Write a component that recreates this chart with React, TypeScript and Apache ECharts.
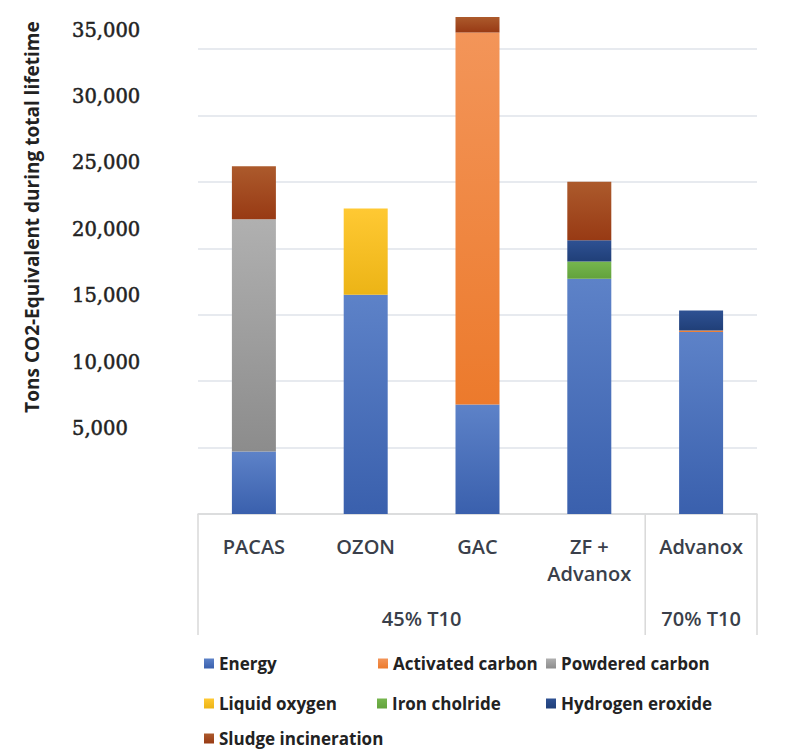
import React, { useEffect, useRef } from "react";
import * as echarts from "echarts";

const categories = ["PACAS", "OZON", "GAC", "ZF +\nAdvanox", "Advanox"];
const groupLabels = ["45% T10", "70% T10"];
const yTicks = [0, 5000, 10000, 15000, 20000, 25000, 30000, 35000];

const seriesNames = [
  "Energy",
  "Activated carbon",
  "Powdered carbon",
  "Liquid oxygen",
  "Iron cholride",
  "Hydrogen eroxide",
  "Sludge incineration",
];
const energy = [4700, 16500, 8250, 17700, 13700];
const activatedCarbon = [0, 0, 28000, 0, 120];
const powderedCarbon = [17480, 0, 0, 0, 0];
const liquidOxygen = [0, 6500, 0, 0, 0];
const ironCholride = [0, 0, 0, 1300, 0];
const hydrogenEroxide = [0, 0, 0, 1600, 1500];
const sludgeIncineration = [4000, 0, 1150, 4400, 0];

const seriesValues = [
  energy,
  activatedCarbon,
  powderedCarbon,
  liquidOxygen,
  ironCholride,
  hydrogenEroxide,
  sludgeIncineration,
];

const colorStops: [string, string][] = [
  ["#5d82c8", "#3a60ad"],
  ["#f39559", "#ec7a2c"],
  ["#b0b0b0", "#8c8c8c"],
  ["#ffc933", "#ecb416"],
  ["#76b64e", "#62a23c"],
  ["#2e5193", "#203f78"],
  ["#ac5a2c", "#983a14"],
];

const legendPos: [number, number][] = [
  [204, 655],
  [378, 655],
  [546, 655],
  [204, 695],
  [377, 695],
  [546, 695],
  [204, 730],
];

export default function App() {
  const ref = useRef<HTMLDivElement>(null);
  useEffect(() => {
    if (!ref.current) return;
    const chart = echarts.init(ref.current, undefined, { renderer: "svg" });
    const gridLeft = 198;
    const gridRight = 30;
    const gridTop = 49;
    const gridBottomY = 514;
    const width = 787;
    const plotW = width - gridLeft - gridRight;
    const catW = plotW / categories.length;
    const boxBottom = 635;
    const lineStyle = { stroke: "#d9d9d9", lineWidth: 1.5 };

    chart.setOption({
      animation: false,
      backgroundColor: "#ffffff",
      grid: {
        left: gridLeft,
        right: gridRight,
        top: gridTop,
        bottom: 752 - gridBottomY,
        containLabel: false,
      },
      legend: seriesNames.map((n, i) => ({
        data: [n],
        left: legendPos[i][0],
        top: legendPos[i][1],
        padding: 0,
        itemWidth: 10,
        itemHeight: 10,
        icon: "rect",
        selectedMode: false,
        textStyle: {
          fontFamily: "Open Sans",
          fontWeight: "bold",
          fontSize: 17,
          lineHeight: 17,
          color: "#222222",
        },
      })),
      xAxis: [
        {
          type: "category",
          data: categories,
          axisLine: { show: true, lineStyle: { color: "#d9d9d9", width: 1.5 } },
          axisTick: { show: false },
          axisLabel: {
            margin: 19,
            fontFamily: "Open Sans",
            fontWeight: 600,
            fontSize: 20,
            color: "#3a3f4a",
            lineHeight: 27,
            interval: 0,
          },
        },
        {
          type: "value",
          position: "bottom",
          min: 0,
          max: categories.length,
          interval: 0.5,
          axisLine: { show: false },
          axisTick: { show: false },
          splitLine: { show: false },
          axisLabel: {
            margin: 94,
            fontFamily: "Open Sans",
            fontWeight: 600,
            fontSize: 20,
            color: "#3a3f4a",
            showMinLabel: true,
            showMaxLabel: true,
            formatter: (v: number) => {
              if (Math.abs(v - 2) < 1e-6) return groupLabels[0];
              if (Math.abs(v - 4.5) < 1e-6) return groupLabels[1];
              return "";
            },
          },
        },
      ],
      yAxis: {
        type: "value",
        min: yTicks[0],
        max: yTicks[yTicks.length - 1],
        interval: 5000,
        axisLine: { show: false },
        axisTick: { show: false },
        splitLine: { lineStyle: { color: "#dfe3ea", width: 1.5 } },
        axisLabel: {
          margin: 126,
          align: "left",
          verticalAlign: "bottom",
          padding: [0, 0, 9, 0],
          fontFamily: "DejaVu Serif",
          fontSize: 19.5,
          color: "#222222",
          textBorderColor: "#222222",
          textBorderWidth: 0.5,
          formatter: (v: number) => (v === 0 ? "" : v.toLocaleString("en-US")),
        },
      },
      series: seriesNames.map((n, i) => ({
        name: n,
        type: "bar",
        stack: "total",
        xAxisIndex: 0,
        barWidth: 44,
        clip: false,
        data: seriesValues[i].map((v) => (v === 0 ? "-" : v)),
        itemStyle: {
          color: new echarts.graphic.LinearGradient(0, 0, 0, 1, [
            { offset: 0, color: colorStops[i][0] },
            { offset: 1, color: colorStops[i][1] },
          ]),
        },
      })),
      graphic: [
        {
          type: "text",
          x: 32,
          y: 217,
          rotation: Math.PI / 2,
          style: {
            text: "Tons CO2-Equivalent during total lifetime",
            font: 'bold 19px "Open Sans"',
            fill: "#222222",
            align: "center",
            verticalAlign: "middle",
          },
        },
        {
          type: "line",
          shape: { x1: gridLeft, y1: gridBottomY, x2: gridLeft, y2: boxBottom },
          style: lineStyle,
        },
        {
          type: "line",
          shape: {
            x1: gridLeft + 4 * catW,
            y1: gridBottomY,
            x2: gridLeft + 4 * catW,
            y2: boxBottom,
          },
          style: lineStyle,
        },
        {
          type: "line",
          shape: {
            x1: gridLeft + plotW,
            y1: gridBottomY,
            x2: gridLeft + plotW,
            y2: boxBottom,
          },
          style: lineStyle,
        },
      ],
    });
    return () => chart.dispose();
  }, []);
  return (
    <div
      ref={ref}
      style={{ position: "fixed", left: 0, top: 0, width: 787, height: 752 }}
    />
  );
}
